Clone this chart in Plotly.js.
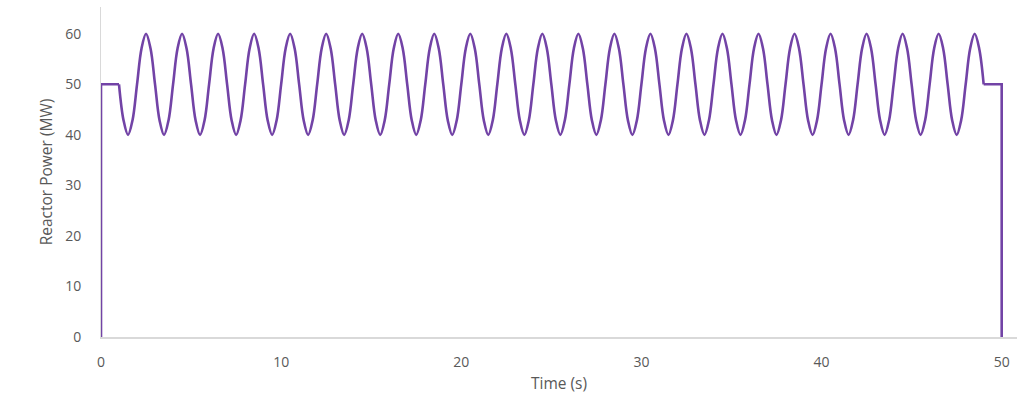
<!DOCTYPE html>
<html>
<head>
<meta charset="utf-8">
<script src="https://cdn.plot.ly/plotly-3.0.1.min.js"></script>
<style>html,body{margin:0;padding:0;background:#fff;}#chart{width:1034px;height:404px;}</style>
</head>
<body>
<div id="chart"></div>
<script>
// Step edges of the power profile (s, MW)
const edgeTime  = [0, 0, 1, null, 49, 50, 50];
const edgePower = [0, 50, 50, null, 50, 50, 0];

// Oscillation readings every 0.25 s (s, MW)
const oscTime = [
  1,1.25,1.5,1.75,2,2.25,2.5,2.75,3,3.25,3.5,3.75,4,4.25,4.5,4.75,
  5,5.25,5.5,5.75,6,6.25,6.5,6.75,7,7.25,7.5,7.75,8,8.25,8.5,8.75,
  9,9.25,9.5,9.75,10,10.25,10.5,10.75,11,11.25,11.5,11.75,12,12.25,12.5,12.75,
  13,13.25,13.5,13.75,14,14.25,14.5,14.75,15,15.25,15.5,15.75,16,16.25,16.5,16.75,
  17,17.25,17.5,17.75,18,18.25,18.5,18.75,19,19.25,19.5,19.75,20,20.25,20.5,20.75,
  21,21.25,21.5,21.75,22,22.25,22.5,22.75,23,23.25,23.5,23.75,24,24.25,24.5,24.75,
  25,25.25,25.5,25.75,26,26.25,26.5,26.75,27,27.25,27.5,27.75,28,28.25,28.5,28.75,
  29,29.25,29.5,29.75,30,30.25,30.5,30.75,31,31.25,31.5,31.75,32,32.25,32.5,32.75,
  33,33.25,33.5,33.75,34,34.25,34.5,34.75,35,35.25,35.5,35.75,36,36.25,36.5,36.75,
  37,37.25,37.5,37.75,38,38.25,38.5,38.75,39,39.25,39.5,39.75,40,40.25,40.5,40.75,
  41,41.25,41.5,41.75,42,42.25,42.5,42.75,43,43.25,43.5,43.75,44,44.25,44.5,44.75,
  45,45.25,45.5,45.75,46,46.25,46.5,46.75,47,47.25,47.5,47.75,48,48.25,48.5,48.75,
  49];
const oscPower = [
  50,42.9,40,42.9,50,57.1,60,57.1,50,42.9,40,42.9,50,57.1,60,57.1,
  50,42.9,40,42.9,50,57.1,60,57.1,50,42.9,40,42.9,50,57.1,60,57.1,
  50,42.9,40,42.9,50,57.1,60,57.1,50,42.9,40,42.9,50,57.1,60,57.1,
  50,42.9,40,42.9,50,57.1,60,57.1,50,42.9,40,42.9,50,57.1,60,57.1,
  50,42.9,40,42.9,50,57.1,60,57.1,50,42.9,40,42.9,50,57.1,60,57.1,
  50,42.9,40,42.9,50,57.1,60,57.1,50,42.9,40,42.9,50,57.1,60,57.1,
  50,42.9,40,42.9,50,57.1,60,57.1,50,42.9,40,42.9,50,57.1,60,57.1,
  50,42.9,40,42.9,50,57.1,60,57.1,50,42.9,40,42.9,50,57.1,60,57.1,
  50,42.9,40,42.9,50,57.1,60,57.1,50,42.9,40,42.9,50,57.1,60,57.1,
  50,42.9,40,42.9,50,57.1,60,57.1,50,42.9,40,42.9,50,57.1,60,57.1,
  50,42.9,40,42.9,50,57.1,60,57.1,50,42.9,40,42.9,50,57.1,60,57.1,
  50,42.9,40,42.9,50,57.1,60,57.1,50,42.9,40,42.9,50,57.1,60,57.1,
  50];

const xTicks = [0, 10, 20, 30, 40, 50];
const yTicks = [0, 10, 20, 30, 40, 50, 60];

const lineColor = '#7243a6';
const traces = [
  {x: edgeTime, y: edgePower, mode: 'lines', line: {color: lineColor, width: 2.6}, connectgaps: false, hoverinfo: 'skip'},
  {x: oscTime, y: oscPower, mode: 'lines', line: {color: lineColor, width: 2.6, shape: 'spline', smoothing: 1.0}}
];

const font = {family: '"Open Sans", "Noto Sans", sans-serif', color: '#595959', size: 14};
const layout = {
  width: 1034, height: 404,
  margin: {l: 101, r: 17, t: 7, b: 67},
  paper_bgcolor: '#ffffff', plot_bgcolor: '#ffffff',
  showlegend: false,
  font: font,
  xaxis: {
    range: [0, 50.85], tickvals: xTicks, ticktext: xTicks.map(String),
    showgrid: false, zeroline: false, showline: true, linecolor: '#d9d9d9', linewidth: 1.5,
    ticks: '', tickfont: {size: 14, color: '#595959'}, ticklabelstandoff: 12,
    title: {text: 'Time (s)', font: {size: 15.5, color: '#595959'}, standoff: 8}
  },
  yaxis: {
    range: [0, 65.3], tickvals: yTicks, ticktext: yTicks.map(String),
    showgrid: false, zeroline: false, showline: true, linecolor: '#d9d9d9', linewidth: 1,
    ticks: '', tickfont: {size: 14, color: '#595959'}, ticklabelstandoff: 16,
    title: {text: 'Reactor Power (MW)', font: {size: 15.5, color: '#595959'}, standoff: 8}
  }
};
Plotly.newPlot('chart', traces, layout, {displayModeBar: false, staticPlot: true});
</script>
</body>
</html>
